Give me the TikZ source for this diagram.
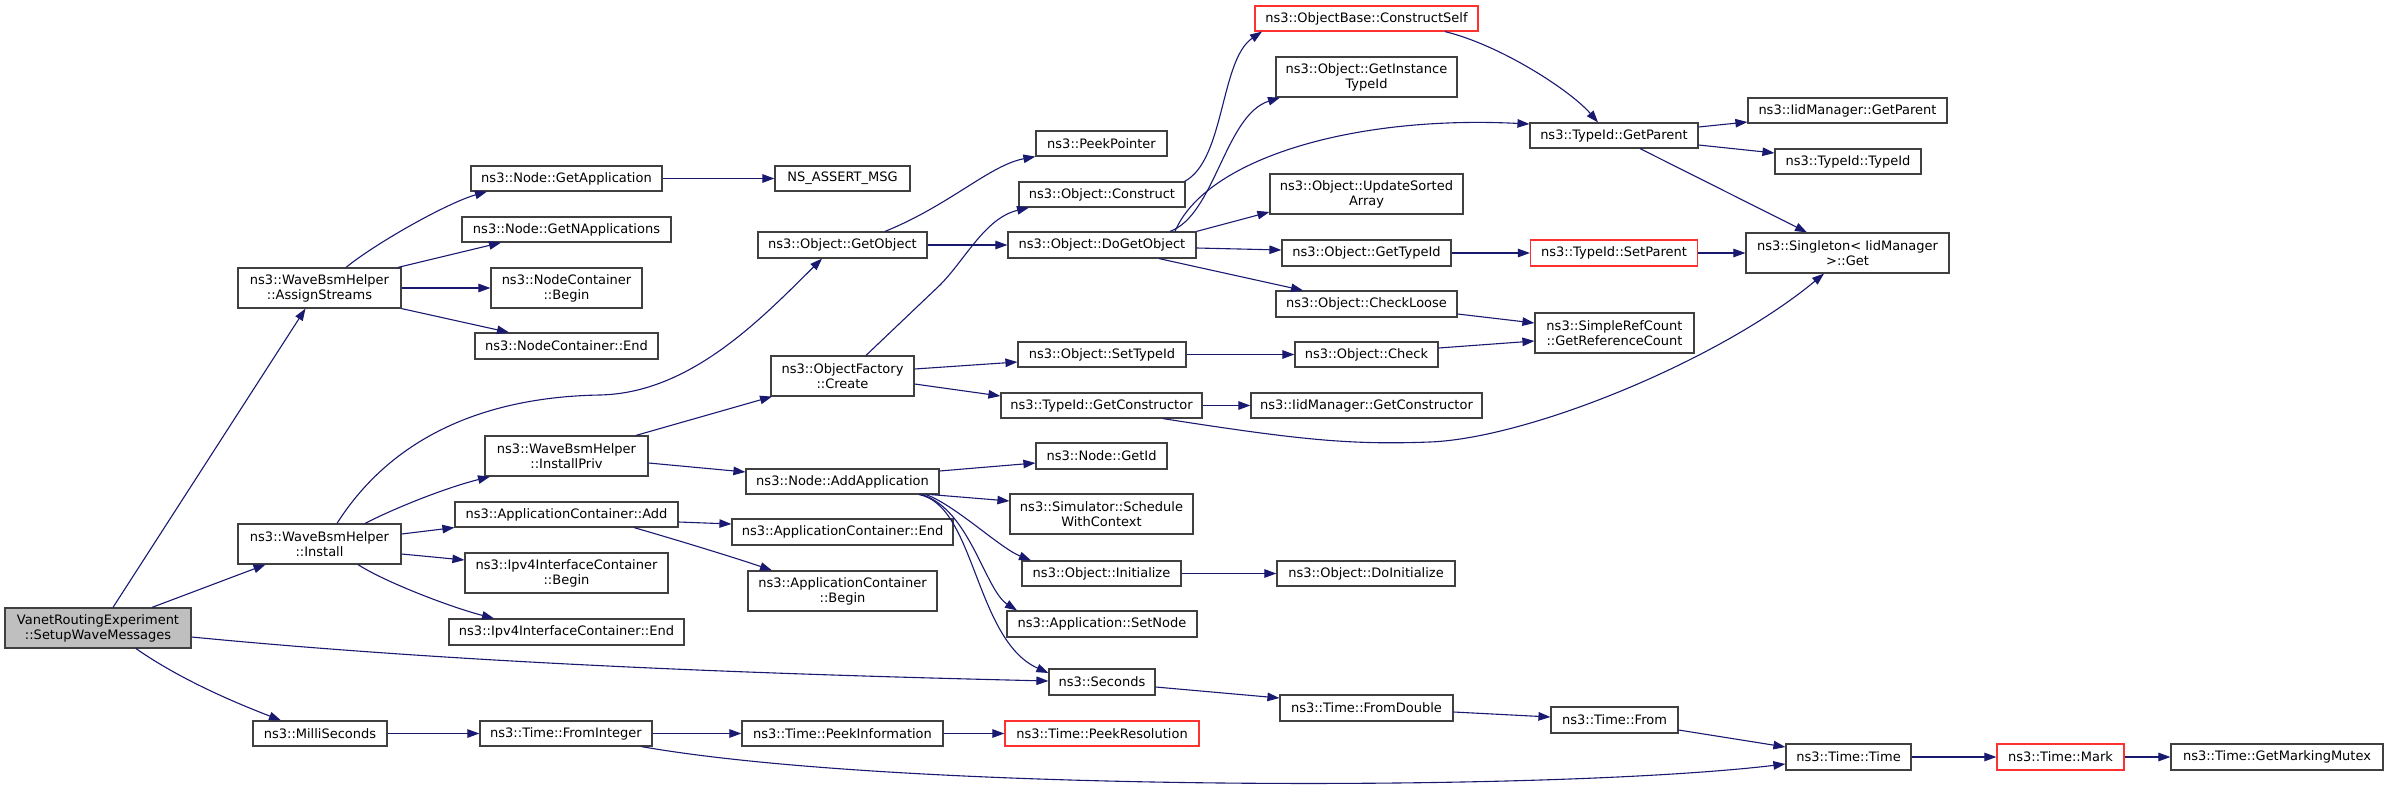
\documentclass[tikz,border=0pt]{standalone}
\usepackage{fontspec}
\setmainfont{DejaVu Sans}
\usetikzlibrary{arrows.meta}
\definecolor{xblue}{HTML}{191970}
\definecolor{xgray}{HTML}{404040}
\definecolor{xred}{HTML}{FF3030}
\definecolor{xfill}{HTML}{BFBFBF}
\tikzset{
	fn/.style 2 args={draw=xgray, line width=1.2pt, fill=white, inner sep=0pt, align=center,
		minimum width=#1pt, minimum height=#2pt, font=\fontsize{13pt}{15pt}\selectfont},
	call/.style={draw=xblue, line width=1.1pt, -{Triangle[length=12pt, width=8.5pt]}},
}

\begin{document}
\begin{tikzpicture}[x=1pt, y=-1pt]
	\useasboundingbox (0,0) rectangle (2388,789);

	\node[fn={186}{40}, fill=xfill] (setup) at (98,628) {VanetRoutingExperiment\\::SetupWaveMessages};
	\node[fn={163}{40}] (assign) at (319.5,288) {ns3::WaveBsmHelper\\::AssignStreams};
	\node[fn={163}{40}] (install) at (319.5,544) {ns3::WaveBsmHelper\\::Install};
	\node[fn={134}{25}] (milli) at (320,733.5) {ns3::MilliSeconds};

	\node[fn={191}{25}] (getapp) at (566.5,178.5) {ns3::Node::GetApplication};
	\node[fn={209}{25}] (getnapp) at (566.5,229.5) {ns3::Node::GetNApplications};
	\node[fn={151}{40}] (ncbegin) at (566.5,288) {ns3::NodeContainer\\::Begin};
	\node[fn={183}{26}] (ncend) at (566.5,346) {ns3::NodeContainer::End};
	\node[fn={163}{40}] (installpriv) at (566.5,456) {ns3::WaveBsmHelper\\::InstallPriv};
	\node[fn={223}{25}] (acadd) at (566.5,514.5) {ns3::ApplicationContainer::Add};
	\node[fn={203}{40}] (ipbegin) at (566.5,573) {ns3::Ipv4InterfaceContainer\\::Begin};
	\node[fn={235}{26}] (ipend) at (566.5,632) {ns3::Ipv4InterfaceContainer::End};
	\node[fn={172}{25}] (frominteger) at (566,733.5) {ns3::Time::FromInteger};

	\node[fn={135}{25}] (nsassert) at (842.5,178.5) {NS\_ASSERT\_MSG};
	\node[fn={169}{26}] (getobject) at (842.5,245) {ns3::Object::GetObject};
	\node[fn={143}{40}] (create) at (842.5,376) {ns3::ObjectFactory\\::Create};
	\node[fn={193}{25}] (addapp) at (842.5,481.5) {ns3::Node::AddApplication};
	\node[fn={221}{26}] (acend) at (842.5,532) {ns3::ApplicationContainer::End};
	\node[fn={189}{40}] (acbegin) at (842.5,591) {ns3::ApplicationContainer\\::Begin};
	\node[fn={201}{25}] (peekinfo) at (842.5,733.5) {ns3::Time::PeekInformation};

	\node[fn={131}{25}] (peekptr) at (1101.5,143.5) {ns3::PeekPointer};
	\node[fn={166}{25}] (construct) at (1102,194.5) {ns3::Object::Construct};
	\node[fn={188}{26}] (dogetobject) at (1102,245) {ns3::Object::DoGetObject};
	\node[fn={168}{25}] (settypeid) at (1102,354.5) {ns3::Object::SetTypeId};
	\node[fn={201}{25}] (getconstructor) at (1101.5,405.5) {ns3::TypeId::GetConstructor};
	\node[fn={131}{26}] (getid) at (1101.5,456) {ns3::Node::GetId};
	\node[fn={183}{40}] (schedule) at (1101.5,514) {ns3::Simulator::Schedule\\WithContext};
	\node[fn={159}{25}] (initialize) at (1101.5,573.5) {ns3::Object::Initialize};
	\node[fn={190}{26}] (setnode) at (1102,624) {ns3::Application::SetNode};
	\node[fn={106}{26}] (seconds) at (1102,682) {ns3::Seconds};
	\node[fn={194}{25}, draw=xred] (peekres) at (1102,733.5) {ns3::Time::PeekResolution};

	\node[fn={223}{25}, draw=xred] (constructself) at (1366.5,18.5) {ns3::ObjectBase::ConstructSelf};
	\node[fn={181}{40}] (getinstance) at (1366.5,77) {ns3::Object::GetInstance\\TypeId};
	\node[fn={193}{40}] (updatesorted) at (1366.5,194) {ns3::Object::UpdateSorted\\Array};
	\node[fn={169}{26}] (gettypeid) at (1366.5,253) {ns3::Object::GetTypeId};
	\node[fn={181}{26}] (checkloose) at (1366.5,304) {ns3::Object::CheckLoose};
	\node[fn={143}{25}] (check) at (1366.5,354.5) {ns3::Object::Check};
	\node[fn={231}{25}] (iidgetconstructor) at (1366.5,405.5) {ns3::IidManager::GetConstructor};
	\node[fn={178}{25}] (doinitialize) at (1366,573.5) {ns3::Object::DoInitialize};
	\node[fn={173}{26}] (fromdouble) at (1366.5,708) {ns3::Time::FromDouble};

	\node[fn={168}{25}] (getparent) at (1614,135.5) {ns3::TypeId::GetParent};
	\node[fn={167}{26}, draw=xred] (setparent) at (1614,253) {ns3::TypeId::SetParent};
	\node[fn={159}{40}] (getrefcount) at (1614.5,333) {ns3::SimpleRefCount\\::GetReferenceCount};
	\node[fn={127}{26}] (timefrom) at (1614.5,720) {ns3::Time::From};

	\node[fn={199}{25}] (iidgetparent) at (1847.5,110.5) {ns3::IidManager::GetParent};
	\node[fn={146}{25}] (typeidtypeid) at (1848,161.5) {ns3::TypeId::TypeId};
	\node[fn={203}{40}] (singleton) at (1847.5,253) {ns3::Singleton< IidManager\\>::Get};
	\node[fn={125}{26}] (timetime) at (1848.5,757) {ns3::Time::Time};
	\node[fn={127}{26}, draw=xred] (mark) at (2060.5,757) {ns3::Time::Mark};
	\node[fn={212}{26}] (mutex) at (2277,757) {ns3::Time::GetMarkingMutex};

	\draw[call] ([xshift=15pt]setup.north) -- ([xshift=-14pt]assign.south);
	\draw[call] ([xshift=54pt]setup.north) -- ([xshift=-54pt]install.south);
	\draw[call] ([yshift=-9pt]setup.east) .. controls (480,665) and (800,675) .. ([yshift=1pt]seconds.west);
	\draw[call] ([xshift=38pt]setup.south) .. controls (181,680) and (236,703) .. ([xshift=-39pt]milli.north);

	\draw[call] ([xshift=26.5pt]assign.north) .. controls (376,243) and (447,203) .. ([xshift=-79.5pt]getapp.south);
	\draw[call] ([xshift=78.5pt]assign.north) -- ([xshift=-65.5pt]getnapp.south);
	\draw[call] (assign.east) -- (ncbegin.west);
	\draw[call] (assign.south east) -- ([xshift=-57.5pt]ncend.north);
	\draw[call] (getapp.east) -- (nsassert.west);

	\draw[call] ([xshift=17.5pt]install.north) .. controls (390,440) and (480,397) .. (600,395)
		.. controls (690,393) and (760,320) .. ([xshift=-20.5pt]getobject.south);
	\draw[call] ([xshift=45.5pt]install.north) .. controls (395,508) and (445,488) .. ([xshift=-76.5pt]installpriv.south);
	\draw[call] ([yshift=10pt]install.east) -- (acadd.south west);
	\draw[call] ([yshift=-10pt]install.east) -- ([yshift=13pt]ipbegin.west);
	\draw[call] ([xshift=38.5pt]install.south) .. controls (385,582) and (450,607) .. ([xshift=-72.5pt]ipend.north);

	\draw[call] ([xshift=69.5pt]installpriv.north) -- ([xshift=-70.5pt]create.south);
	\draw[call] ([yshift=-7pt]installpriv.east) -- ([yshift=9.5pt]addapp.west);
	\draw[call] ([yshift=-7.5pt]acadd.east) -- ([yshift=8pt]acend.west);
	\draw[call] ([xshift=67.5pt]acadd.south) .. controls (660,535) and (730,556) .. ([xshift=-70.5pt]acbegin.north);
	\draw[call] (milli.east) -- (frominteger.west);
	\draw[call] (frominteger.east) -- (peekinfo.west);
	\draw[call] ([xshift=75.5pt]frominteger.south) .. controls (900,792) and (1550,792) .. ([yshift=-7pt]timetime.west);
	\draw[call] (peekinfo.east) -- (peekres.west);

	\draw[call] ([xshift=42.5pt]getobject.north) .. controls (950,205) and (990,165) .. (peekptr.south west);
	\draw[call] (getobject.east) -- (dogetobject.west);
	\draw[call] ([xshift=23.5pt]create.north) -- (940,285) .. controls (965,260) and (985,218) .. ([xshift=-73pt]construct.south);
	\draw[call] ([yshift=7pt]create.east) -- ([yshift=-7.5pt]settypeid.west);
	\draw[call] ([yshift=-8pt]create.east) -- ([yshift=9.5pt]getconstructor.west);
	\draw[call] ([yshift=10.5pt]addapp.east) -- ([yshift=-7pt]getid.west);
	\draw[call] ([xshift=88.5pt]addapp.south) -- ([yshift=13pt]schedule.west);
	\draw[call] ([xshift=83.5pt]addapp.south) .. controls (955,505) and (1000,548) .. ([xshift=-70.5pt]initialize.north);
	\draw[call] ([xshift=79.5pt]addapp.south) .. controls (970,510) and (985,590) .. ([xshift=-85pt]setnode.north);
	\draw[call] ([xshift=76.5pt]addapp.south) .. controls (975,505) and (975,640) .. ([yshift=9pt]seconds.west);

	\draw[call] ([xshift=-1pt]construct.north east) .. controls (1225,160) and (1220,60) .. ([xshift=-104.5pt]constructself.south);
	\draw[call] ([xshift=68pt]dogetobject.north) .. controls (1215,215) and (1225,115) .. ([xshift=-86.5pt]getinstance.south);
	\draw[call] ([xshift=73pt]dogetobject.north) .. controls (1205,160) and (1350,115) .. ([yshift=11.5pt]getparent.west);
	\draw[call] (dogetobject.north east) -- ([yshift=-18pt]updatesorted.west);
	\draw[call] ([yshift=-3pt]dogetobject.east) -- ([yshift=3pt]gettypeid.west);
	\draw[call] ([xshift=57pt]dogetobject.south) -- ([xshift=-63.5pt]checkloose.north);
	\draw[call] (settypeid.east) -- (check.west);
	\draw[call] (getconstructor.east) -- (iidgetconstructor.west);
	\draw[call] ([xshift=61.5pt]getconstructor.south) .. controls (1300,440) and (1350,445) .. (1430,442)
		.. controls (1530,438) and (1720,360) .. ([xshift=-23.5pt]singleton.south);
	\draw[call] (initialize.east) -- (doinitialize.west);
	\draw[call] ([yshift=-5pt]seconds.east) -- ([yshift=10pt]fromdouble.west);

	\draw[call] ([xshift=78.5pt]constructself.south) .. controls (1500,45) and (1570,90) .. ([xshift=-16pt]getparent.north);
	\draw[call] (gettypeid.east) -- (setparent.west);
	\draw[call] ([yshift=-10pt]checkloose.east) -- ([yshift=10pt]getrefcount.west);
	\draw[call] ([yshift=6.5pt]check.east) -- ([yshift=-8pt]getrefcount.west);
	\draw[call] ([yshift=-4pt]fromdouble.east) -- ([yshift=3pt]timefrom.west);

	\draw[call] ([yshift=8.5pt]getparent.east) -- ([yshift=-11.5pt]iidgetparent.west);
	\draw[call] ([yshift=-9.5pt]getparent.east) -- ([yshift=8.5pt]typeidtypeid.west);
	\draw[call] ([xshift=26pt]getparent.south) -- ([xshift=-40.5pt]singleton.north);
	\draw[call] (setparent.east) -- (singleton.west);
	\draw[call] ([yshift=-10pt]timefrom.east) -- ([yshift=10pt]timetime.west);
	\draw[call] (timetime.east) -- (mark.west);
	\draw[call] (mark.east) -- (mutex.west);
\end{tikzpicture}
\end{document}
